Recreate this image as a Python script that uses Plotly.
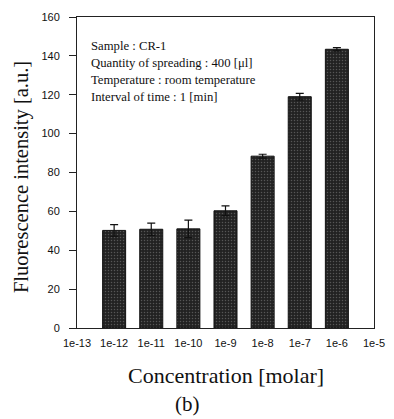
import plotly.graph_objects as go

exponents = [-12, -11, -10, -9, -8, -7, -6]
values = [50.2, 50.8, 51.0, 60.3, 88.4, 119.0, 143.4]
errors = [3.0, 3.2, 4.5, 2.5, 1.0, 1.7, 0.8]
tick_positions = [-13, -12, -11, -10, -9, -8, -7, -6, -5]
tick_labels = ["1e-13", "1e-12", "1e-11", "1e-10", "1e-9", "1e-8", "1e-7", "1e-6", "1e-5"]
y_ticks = [0, 20, 40, 60, 80, 100, 120, 140, 160]
info_lines = ["Sample : CR-1",
              "Quantity of spreading : 400 [μl]",
              "Temperature : room temperature",
              "Interval of time : 1 [min]"]

serif = "Liberation Serif, Times New Roman, serif"
sans = "Liberation Sans, Arial, sans-serif"

L, R, T, B = 77, 9, 17, 91
W, H = 394, 419
PW, PH = W - L - R, H - T - B


def px(x):
    return (x - L) / PW


def py(y):
    return 1 - (y - T) / PH


fig = go.Figure()
fig.add_trace(go.Bar(
    x=exponents, y=values, width=0.62,
    marker=dict(color="#222", line=dict(color="#111", width=1),
                pattern=dict(shape=".", fgcolor="#8a8a8a", bgcolor="#222",
                             size=3, solidity=0.2)),
    error_y=dict(type="data", array=errors, visible=True, color="#111",
                 thickness=1.2, width=4),
    showlegend=False,
))

fig.update_layout(
    width=W, height=H,
    margin=dict(l=L, r=R, t=T, b=B),
    paper_bgcolor="white", plot_bgcolor="white",
    xaxis=dict(range=[-13, -5], tickvals=tick_positions, ticktext=tick_labels,
               showgrid=False, zeroline=False, showline=True, linecolor="#222",
               linewidth=1, mirror=True, ticks="", ticklen=0,
               ticklabelstandoff=5, ticklabeloverflow="allow",
               tickfont=dict(family=sans, size=11, color="#111")),
    yaxis=dict(range=[0, 160], tickvals=y_ticks, showgrid=False, zeroline=False,
               showline=True, linecolor="#222", linewidth=1, mirror=True,
               ticks="outside", ticklen=7, tickcolor="#222",
               ticklabelstandoff=7,
               tickfont=dict(family=sans, size=11, color="#111")),
)

fig.add_annotation(xref="paper", yref="paper", x=px(19), y=py(177),
                   text="Fluorescence intensity [a.u.]", textangle=-90,
                   showarrow=False, xanchor="center", yanchor="middle",
                   font=dict(family=serif, size=20.5, color="#111"))
fig.add_annotation(xref="paper", yref="paper", x=px(231), y=py(375),
                   text="Concentration [molar]", showarrow=False,
                   xanchor="center", yanchor="middle",
                   font=dict(family=serif, size=22, color="#111"))

for i, line in enumerate(info_lines):
    fig.add_annotation(xref="paper", yref="paper", x=px(89),
                       y=py(46 + 17 * i), text=line, showarrow=False,
                       xanchor="left", yanchor="middle",
                       font=dict(family=serif, size=12.7, color="#111"))

fig.add_annotation(xref="paper", yref="paper", x=px(192), y=py(404),
                   text="(b)", showarrow=False,
                   xanchor="center", yanchor="middle",
                   font=dict(family=serif, size=21, color="#111"))

fig.write_html("out.html")
